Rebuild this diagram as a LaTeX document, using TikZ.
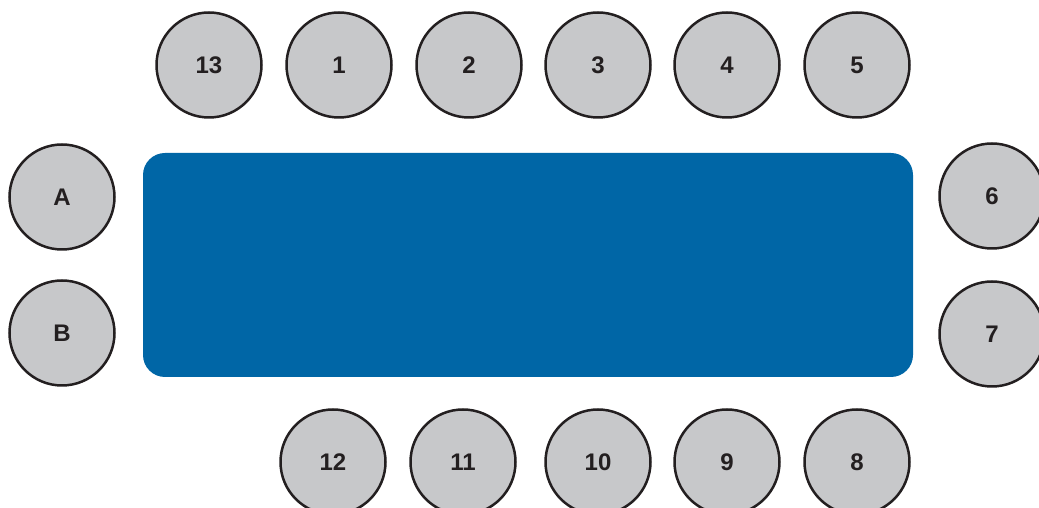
\documentclass[tikz,border=0pt]{standalone}
\usepackage{fontspec}
\setmainfont{Liberation Sans}
\usepackage{tikz}
\usetikzlibrary{positioning}
\usepackage{xcolor}
\definecolor{seatgray}{HTML}{C7C8CA}
\definecolor{tableblue}{HTML}{0066A6}
\definecolor{inkblack}{HTML}{231F20}

\begin{document}
\begin{tikzpicture}[
    x=1pt,y=1pt,
    seat/.style={circle,draw=inkblack,line width=2.5pt,fill=seatgray,minimum size=105pt,inner sep=0pt,font=\fontsize{24}{24}\selectfont\bfseries,text=inkblack},
    tbl/.style={rectangle,fill=tableblue,rounded corners=22pt,minimum width=770pt,minimum height=224pt,inner sep=0pt},
]
\useasboundingbox (0,0) rectangle (1039,508);
\node[tbl] (table) at (528,243) {};
% top row
\node[seat] (s13) at (209,443) {13};
\node[seat] (s1)  at (339,443) {1};
\node[seat] (s2)  at (469,443) {2};
\node[seat] (s3)  at (598,443) {3};
\node[seat] (s4)  at (727,443) {4};
\node[seat] (s5)  at (857,443) {5};
% ends
\node[seat] (sA)  at (62,311)  {A};
\node[seat] (sB)  at (62,175)  {B};
\node[seat] (s6)  at (992,312) {6};
\node[seat] (s7)  at (992,174) {7};
% bottom row
\node[seat] (s12) at (333,46)  {12};
\node[seat] (s11) at (463,46)  {11};
\node[seat] (s10) at (598,46)  {10};
\node[seat] (s9)  at (727,46)  {9};
\node[seat] (s8)  at (857,46)  {8};
\end{tikzpicture}
\end{document}
